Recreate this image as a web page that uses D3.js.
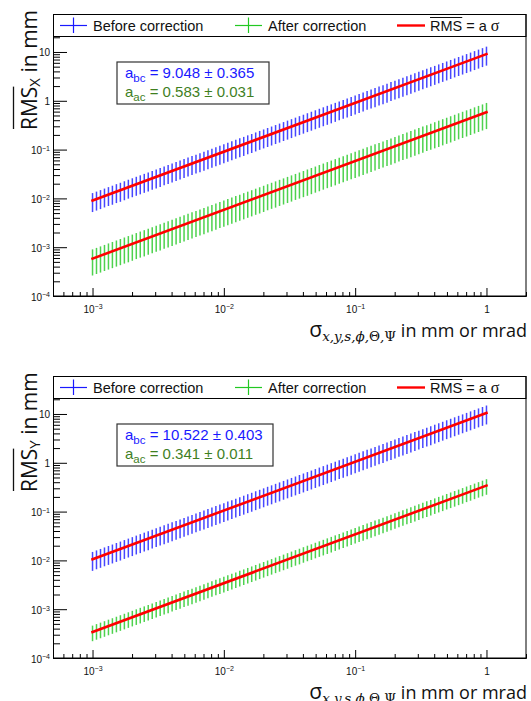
<!DOCTYPE html>
<html>
<head>
<meta charset="utf-8">
<script src="https://cdn.jsdelivr.net/npm/d3@7"></script>
<style>
body{margin:0;background:#fff}
svg{display:block}
</style>
</head>
<body>
<svg id="chart" width="531" height="701"></svg>
<script>
// sigma values (mm or mrad), 33 points per decade from 1e-3 to 1
const sigma=[
1.000e-3,1.072e-3,1.150e-3,1.233e-3,1.322e-3,1.417e-3,1.520e-3,1.630e-3,1.748e-3,1.874e-3,2.009e-3,2.154e-3,2.310e-3,2.477e-3,2.656e-3,2.848e-3,3.054e-3,3.275e-3,3.511e-3,3.765e-3,4.037e-3,4.329e-3,4.642e-3,4.977e-3,5.337e-3,5.722e-3,6.136e-3,6.579e-3,7.055e-3,7.565e-3,8.111e-3,8.697e-3,9.326e-3,
1.000e-2,1.072e-2,1.150e-2,1.233e-2,1.322e-2,1.417e-2,1.520e-2,1.630e-2,1.748e-2,1.874e-2,2.009e-2,2.154e-2,2.310e-2,2.477e-2,2.656e-2,2.848e-2,3.054e-2,3.275e-2,3.511e-2,3.765e-2,4.037e-2,4.329e-2,4.642e-2,4.977e-2,5.337e-2,5.722e-2,6.136e-2,6.579e-2,7.055e-2,7.565e-2,8.111e-2,8.697e-2,9.326e-2,
1.000e-1,1.072e-1,1.150e-1,1.233e-1,1.322e-1,1.417e-1,1.520e-1,1.630e-1,1.748e-1,1.874e-1,2.009e-1,2.154e-1,2.310e-1,2.477e-1,2.656e-1,2.848e-1,3.054e-1,3.275e-1,3.511e-1,3.765e-1,4.037e-1,4.329e-1,4.642e-1,4.977e-1,5.337e-1,5.722e-1,6.136e-1,6.579e-1,7.055e-1,7.565e-1,8.111e-1,8.697e-1,9.326e-1,
1];

// RMS_X before correction (mm) and its error
const rmsXBefore=[
9.05e-3,9.70e-3,10.4e-3,11.2e-3,12.0e-3,12.8e-3,13.8e-3,14.7e-3,15.8e-3,17.0e-3,18.2e-3,19.5e-3,20.9e-3,22.4e-3,24.0e-3,25.8e-3,27.6e-3,29.6e-3,31.8e-3,34.1e-3,36.5e-3,39.2e-3,42.0e-3,45.0e-3,48.3e-3,51.8e-3,55.5e-3,59.5e-3,63.8e-3,68.4e-3,73.4e-3,78.7e-3,84.4e-3,
9.05e-2,9.70e-2,10.4e-2,11.2e-2,12.0e-2,12.8e-2,13.8e-2,14.7e-2,15.8e-2,17.0e-2,18.2e-2,19.5e-2,20.9e-2,22.4e-2,24.0e-2,25.8e-2,27.6e-2,29.6e-2,31.8e-2,34.1e-2,36.5e-2,39.2e-2,42.0e-2,45.0e-2,48.3e-2,51.8e-2,55.5e-2,59.5e-2,63.8e-2,68.4e-2,73.4e-2,78.7e-2,84.4e-2,
9.05e-1,9.70e-1,10.4e-1,11.2e-1,12.0e-1,12.8e-1,13.8e-1,14.7e-1,15.8e-1,17.0e-1,18.2e-1,19.5e-1,20.9e-1,22.4e-1,24.0e-1,25.8e-1,27.6e-1,29.6e-1,31.8e-1,34.1e-1,36.5e-1,39.2e-1,42.0e-1,45.0e-1,48.3e-1,51.8e-1,55.5e-1,59.5e-1,63.8e-1,68.4e-1,73.4e-1,78.7e-1,84.4e-1,
9.05];
const rmsXBeforeErr=[
3.80e-3,4.07e-3,4.37e-3,4.68e-3,5.02e-3,5.39e-3,5.78e-3,6.19e-3,6.64e-3,7.12e-3,7.63e-3,8.19e-3,8.78e-3,9.41e-3,10.1e-3,10.8e-3,11.6e-3,12.4e-3,13.3e-3,14.3e-3,15.3e-3,16.4e-3,17.6e-3,18.9e-3,20.3e-3,21.7e-3,23.3e-3,25.0e-3,26.8e-3,28.7e-3,30.8e-3,33.1e-3,35.4e-3,
3.80e-2,4.07e-2,4.37e-2,4.68e-2,5.02e-2,5.39e-2,5.78e-2,6.19e-2,6.64e-2,7.12e-2,7.63e-2,8.19e-2,8.78e-2,9.41e-2,10.1e-2,10.8e-2,11.6e-2,12.4e-2,13.3e-2,14.3e-2,15.3e-2,16.4e-2,17.6e-2,18.9e-2,20.3e-2,21.7e-2,23.3e-2,25.0e-2,26.8e-2,28.7e-2,30.8e-2,33.1e-2,35.4e-2,
3.80e-1,4.07e-1,4.37e-1,4.68e-1,5.02e-1,5.39e-1,5.78e-1,6.19e-1,6.64e-1,7.12e-1,7.63e-1,8.19e-1,8.78e-1,9.41e-1,10.1e-1,10.8e-1,11.6e-1,12.4e-1,13.3e-1,14.3e-1,15.3e-1,16.4e-1,17.6e-1,18.9e-1,20.3e-1,21.7e-1,23.3e-1,25.0e-1,26.8e-1,28.7e-1,30.8e-1,33.1e-1,35.4e-1,
3.80];

// RMS_X after correction
const rmsXAfter=[
0.583e-3,0.625e-3,0.670e-3,0.719e-3,0.771e-3,0.826e-3,0.886e-3,0.950e-3,1.02e-3,1.09e-3,1.17e-3,1.26e-3,1.35e-3,1.44e-3,1.55e-3,1.66e-3,1.78e-3,1.91e-3,2.05e-3,2.19e-3,2.35e-3,2.52e-3,2.71e-3,2.90e-3,3.11e-3,3.34e-3,3.58e-3,3.84e-3,4.11e-3,4.41e-3,4.73e-3,5.07e-3,5.44e-3,
0.583e-2,0.625e-2,0.670e-2,0.719e-2,0.771e-2,0.826e-2,0.886e-2,0.950e-2,1.02e-2,1.09e-2,1.17e-2,1.26e-2,1.35e-2,1.44e-2,1.55e-2,1.66e-2,1.78e-2,1.91e-2,2.05e-2,2.19e-2,2.35e-2,2.52e-2,2.71e-2,2.90e-2,3.11e-2,3.34e-2,3.58e-2,3.84e-2,4.11e-2,4.41e-2,4.73e-2,5.07e-2,5.44e-2,
0.583e-1,0.625e-1,0.670e-1,0.719e-1,0.771e-1,0.826e-1,0.886e-1,0.950e-1,1.02e-1,1.09e-1,1.17e-1,1.26e-1,1.35e-1,1.44e-1,1.55e-1,1.66e-1,1.78e-1,1.91e-1,2.05e-1,2.19e-1,2.35e-1,2.52e-1,2.71e-1,2.90e-1,3.11e-1,3.34e-1,3.58e-1,3.84e-1,4.11e-1,4.41e-1,4.73e-1,5.07e-1,5.44e-1,
0.583];
const rmsXAfterErr=[
0.320e-3,0.343e-3,0.368e-3,0.394e-3,0.423e-3,0.454e-3,0.486e-3,0.522e-3,0.559e-3,0.600e-3,0.643e-3,0.689e-3,0.739e-3,0.793e-3,0.850e-3,0.911e-3,0.977e-3,1.05e-3,1.12e-3,1.20e-3,1.29e-3,1.39e-3,1.49e-3,1.59e-3,1.71e-3,1.83e-3,1.96e-3,2.11e-3,2.26e-3,2.42e-3,2.60e-3,2.78e-3,2.98e-3,
0.320e-2,0.343e-2,0.368e-2,0.394e-2,0.423e-2,0.454e-2,0.486e-2,0.522e-2,0.559e-2,0.600e-2,0.643e-2,0.689e-2,0.739e-2,0.793e-2,0.850e-2,0.911e-2,0.977e-2,1.05e-2,1.12e-2,1.20e-2,1.29e-2,1.39e-2,1.49e-2,1.59e-2,1.71e-2,1.83e-2,1.96e-2,2.11e-2,2.26e-2,2.42e-2,2.60e-2,2.78e-2,2.98e-2,
0.320e-1,0.343e-1,0.368e-1,0.394e-1,0.423e-1,0.454e-1,0.486e-1,0.522e-1,0.559e-1,0.600e-1,0.643e-1,0.689e-1,0.739e-1,0.793e-1,0.850e-1,0.911e-1,0.977e-1,1.05e-1,1.12e-1,1.20e-1,1.29e-1,1.39e-1,1.49e-1,1.59e-1,1.71e-1,1.83e-1,1.96e-1,2.11e-1,2.26e-1,2.42e-1,2.60e-1,2.78e-1,2.98e-1,
0.320];

// RMS_Y before correction
const rmsYBefore=[
10.5e-3,11.3e-3,12.1e-3,13.0e-3,13.9e-3,14.9e-3,16.0e-3,17.1e-3,18.4e-3,19.7e-3,21.1e-3,22.7e-3,24.3e-3,26.1e-3,27.9e-3,30.0e-3,32.1e-3,34.5e-3,36.9e-3,39.6e-3,42.5e-3,45.5e-3,48.8e-3,52.4e-3,56.2e-3,60.2e-3,64.6e-3,69.2e-3,74.2e-3,79.6e-3,85.3e-3,91.5e-3,98.1e-3,
10.5e-2,11.3e-2,12.1e-2,13.0e-2,13.9e-2,14.9e-2,16.0e-2,17.1e-2,18.4e-2,19.7e-2,21.1e-2,22.7e-2,24.3e-2,26.1e-2,27.9e-2,30.0e-2,32.1e-2,34.5e-2,36.9e-2,39.6e-2,42.5e-2,45.5e-2,48.8e-2,52.4e-2,56.2e-2,60.2e-2,64.6e-2,69.2e-2,74.2e-2,79.6e-2,85.3e-2,91.5e-2,98.1e-2,
10.5e-1,11.3e-1,12.1e-1,13.0e-1,13.9e-1,14.9e-1,16.0e-1,17.1e-1,18.4e-1,19.7e-1,21.1e-1,22.7e-1,24.3e-1,26.1e-1,27.9e-1,30.0e-1,32.1e-1,34.5e-1,36.9e-1,39.6e-1,42.5e-1,45.5e-1,48.8e-1,52.4e-1,56.2e-1,60.2e-1,64.6e-1,69.2e-1,74.2e-1,79.6e-1,85.3e-1,91.5e-1,98.1e-1,
10.5];
const rmsYBeforeErr=[
4.40e-3,4.72e-3,5.06e-3,5.42e-3,5.82e-3,6.24e-3,6.69e-3,7.17e-3,7.69e-3,8.24e-3,8.84e-3,9.48e-3,10.2e-3,10.9e-3,11.7e-3,12.5e-3,13.4e-3,14.4e-3,15.4e-3,16.6e-3,17.8e-3,19.0e-3,20.4e-3,21.9e-3,23.5e-3,25.2e-3,27.0e-3,28.9e-3,31.0e-3,33.3e-3,35.7e-3,38.3e-3,41.0e-3,
4.40e-2,4.72e-2,5.06e-2,5.42e-2,5.82e-2,6.24e-2,6.69e-2,7.17e-2,7.69e-2,8.24e-2,8.84e-2,9.48e-2,10.2e-2,10.9e-2,11.7e-2,12.5e-2,13.4e-2,14.4e-2,15.4e-2,16.6e-2,17.8e-2,19.0e-2,20.4e-2,21.9e-2,23.5e-2,25.2e-2,27.0e-2,28.9e-2,31.0e-2,33.3e-2,35.7e-2,38.3e-2,41.0e-2,
4.40e-1,4.72e-1,5.06e-1,5.42e-1,5.82e-1,6.24e-1,6.69e-1,7.17e-1,7.69e-1,8.24e-1,8.84e-1,9.48e-1,10.2e-1,10.9e-1,11.7e-1,12.5e-1,13.4e-1,14.4e-1,15.4e-1,16.6e-1,17.8e-1,19.0e-1,20.4e-1,21.9e-1,23.5e-1,25.2e-1,27.0e-1,28.9e-1,31.0e-1,33.3e-1,35.7e-1,38.3e-1,41.0e-1,
4.40];

// RMS_Y after correction
const rmsYAfter=[
0.341e-3,0.366e-3,0.392e-3,0.420e-3,0.451e-3,0.483e-3,0.518e-3,0.556e-3,0.596e-3,0.639e-3,0.685e-3,0.735e-3,0.788e-3,0.845e-3,0.906e-3,0.971e-3,1.04e-3,1.12e-3,1.20e-3,1.28e-3,1.38e-3,1.48e-3,1.58e-3,1.70e-3,1.82e-3,1.95e-3,2.09e-3,2.24e-3,2.41e-3,2.58e-3,2.77e-3,2.97e-3,3.18e-3,
0.341e-2,0.366e-2,0.392e-2,0.420e-2,0.451e-2,0.483e-2,0.518e-2,0.556e-2,0.596e-2,0.639e-2,0.685e-2,0.735e-2,0.788e-2,0.845e-2,0.906e-2,0.971e-2,1.04e-2,1.12e-2,1.20e-2,1.28e-2,1.38e-2,1.48e-2,1.58e-2,1.70e-2,1.82e-2,1.95e-2,2.09e-2,2.24e-2,2.41e-2,2.58e-2,2.77e-2,2.97e-2,3.18e-2,
0.341e-1,0.366e-1,0.392e-1,0.420e-1,0.451e-1,0.483e-1,0.518e-1,0.556e-1,0.596e-1,0.639e-1,0.685e-1,0.735e-1,0.788e-1,0.845e-1,0.906e-1,0.971e-1,1.04e-1,1.12e-1,1.20e-1,1.28e-1,1.38e-1,1.48e-1,1.58e-1,1.70e-1,1.82e-1,1.95e-1,2.09e-1,2.24e-1,2.41e-1,2.58e-1,2.77e-1,2.97e-1,3.18e-1,
0.341];
const rmsYAfterErr=[
0.120e-3,0.129e-3,0.138e-3,0.148e-3,0.159e-3,0.170e-3,0.182e-3,0.196e-3,0.210e-3,0.225e-3,0.241e-3,0.259e-3,0.277e-3,0.297e-3,0.319e-3,0.342e-3,0.366e-3,0.393e-3,0.421e-3,0.452e-3,0.484e-3,0.519e-3,0.557e-3,0.597e-3,0.640e-3,0.687e-3,0.736e-3,0.790e-3,0.847e-3,0.908e-3,0.973e-3,1.04e-3,1.12e-3,
0.120e-2,0.129e-2,0.138e-2,0.148e-2,0.159e-2,0.170e-2,0.182e-2,0.196e-2,0.210e-2,0.225e-2,0.241e-2,0.259e-2,0.277e-2,0.297e-2,0.319e-2,0.342e-2,0.366e-2,0.393e-2,0.421e-2,0.452e-2,0.484e-2,0.519e-2,0.557e-2,0.597e-2,0.640e-2,0.687e-2,0.736e-2,0.790e-2,0.847e-2,0.908e-2,0.973e-2,1.04e-2,1.12e-2,
0.120e-1,0.129e-1,0.138e-1,0.148e-1,0.159e-1,0.170e-1,0.182e-1,0.196e-1,0.210e-1,0.225e-1,0.241e-1,0.259e-1,0.277e-1,0.297e-1,0.319e-1,0.342e-1,0.366e-1,0.393e-1,0.421e-1,0.452e-1,0.484e-1,0.519e-1,0.557e-1,0.597e-1,0.640e-1,0.687e-1,0.736e-1,0.790e-1,0.847e-1,0.908e-1,0.973e-1,1.04e-1,1.12e-1,
0.120];

// fit results  RMS = a*sigma  (top panel X, bottom panel Y)
const fitBefore=[9.048,10.522];
const fitBeforeErr=[0.365,0.403];
const fitAfter=[0.583,0.341];
const fitAfterErr=[0.031,0.011];

const legendLabels=["Before correction","After correction"];
const xTicks=[1e-3,1e-2,1e-1,1];
const xTickLabels=[["10","\u22123"],["10","\u22122"],["10","\u22121"],["1",""]];
const yTicks=[1e-4,1e-3,1e-2,1e-1,1,10];
const yTickLabels=[["10","\u22124"],["10","\u22123"],["10","\u22122"],["10","\u22121"],["1",""],["10",""]];

const FONT="'Liberation Sans', Arial, sans-serif";
const TFONT="'Open Sans', sans-serif";
const BLUE="#1a1aff", GREEN="#22c822", RED="#ff0000", OLIVE="#3f7f1f";

const svg=d3.select("#chart");
const x=d3.scaleLog().domain([5e-4,2]).range([53,526]);
const y=d3.scaleLog().domain([1e-4,60]).range([296,14]);

// minor tick positions
function minors(lo,hi){
  const out=[];
  for(let e=-5;e<=2;e++){
    for(let k=2;k<=9;k++){
      const v=k*Math.pow(10,e);
      if(v>=lo*0.999 && v<=hi*1.001) out.push(v);
    }
  }
  return out;
}

function labelPow(textSel,lab,supSize){
  textSel.text(null);
  textSel.append("tspan").text(lab[0]);
  if(lab[1]) textSel.append("tspan").attr("font-size",supSize).attr("dy","-0.45em").text(lab[1]);
}

function panel(p){
  const g=svg.append("g").attr("transform",`translate(0,${p.off})`);

  // axes
  const gx=g.append("g").attr("transform","translate(0,296)");
  gx.call(d3.axisBottom(x).tickValues(minors(5e-4,2)).tickSize(-4).tickSizeOuter(0).tickFormat(""));
  const gxm=g.append("g").attr("transform","translate(0,296)");
  gxm.call(d3.axisBottom(x).tickValues(xTicks).tickSize(-8).tickSizeOuter(0).tickPadding(7).tickFormat(""));
  gxm.selectAll(".tick text").attr("font-family",FONT).attr("font-size",10).attr("fill","#111")
    .attr("dy","0.95em")
    .each(function(d,i){labelPow(d3.select(this),xTickLabels[i],7);});

  const gy=g.append("g").attr("transform","translate(53,0)");
  gy.call(d3.axisLeft(y).tickValues(minors(1e-4,60)).tickSize(-7).tickSizeOuter(0).tickFormat(""));
  const gym=g.append("g").attr("transform","translate(53,0)");
  gym.call(d3.axisLeft(y).tickValues(yTicks).tickSize(-14).tickSizeOuter(0).tickPadding(3).tickFormat(""));
  gym.selectAll(".tick text").attr("font-family",FONT).attr("font-size",10).attr("fill","#111")
    .attr("dy","0.4em")
    .each(function(d,i){labelPow(d3.select(this),yTickLabels[i],7);});
  g.selectAll(".domain").attr("stroke","#000");
  g.selectAll(".tick line").attr("stroke","#000");

  // error bars
  const series=[
    {v:p.before,e:p.beforeErr,c:BLUE},
    {v:p.after,e:p.afterErr,c:GREEN}
  ];
  series.forEach(s=>{
    g.append("g").selectAll("line").data(s.v).join("line")
      .attr("x1",(d,i)=>x(sigma[i])).attr("x2",(d,i)=>x(sigma[i]))
      .attr("y1",(d,i)=>y(d-s.e[i])).attr("y2",(d,i)=>y(d+s.e[i]))
      .attr("stroke",s.c).attr("stroke-width",1.5).attr("opacity",0.8);
  });

  // fit lines
  [p.a1,p.a2].forEach(a=>{
    const ends=[sigma[0],sigma[sigma.length-1]];
    g.append("path")
      .attr("d",d3.line().x(d=>x(d)).y(d=>y(a*d))(ends))
      .attr("stroke",RED).attr("stroke-width",2.6).attr("fill","none").attr("stroke-linecap","square");
  });

  // legend
  const lg=g.append("g");
  lg.append("rect").attr("x",53.5).attr("y",14.5).attr("width",472.5).attr("height",22)
    .attr("fill","#fff").attr("stroke","#000");
  [[60,87,BLUE,93],[235,262,GREEN,268]].forEach((L,i)=>{
    lg.append("line").attr("x1",L[0]).attr("x2",L[1]).attr("y1",25.5).attr("y2",25.5).attr("stroke",L[2]).attr("stroke-width",1.2);
    lg.append("line").attr("x1",(L[0]+L[1])/2).attr("x2",(L[0]+L[1])/2).attr("y1",17.5).attr("y2",33).attr("stroke",L[2]).attr("stroke-width",1.2);
    lg.append("text").attr("x",L[3]).attr("y",30.5).attr("font-family",FONT).attr("font-size",14.5).attr("fill","#111").text(legendLabels[i]);
  });
  lg.append("line").attr("x1",397).attr("x2",425).attr("y1",25.5).attr("y2",25.5).attr("stroke",RED).attr("stroke-width",2.4);
  const rmsT=lg.append("text").attr("x",430).attr("y",30.5).attr("font-family",FONT).attr("font-size",14.5).attr("fill","#111").text("RMS");
  const rw=rmsT.node().getComputedTextLength();
  lg.append("line").attr("x1",430).attr("x2",430+rw).attr("y1",17.5).attr("y2",17.5).attr("stroke","#111").attr("stroke-width",1.1);
  const rest=lg.append("text").attr("x",430+rw).attr("y",30.5).attr("font-family",FONT).attr("font-size",14.5).attr("fill","#111");
  rest.append("tspan").text("\u00a0= a\u00a0");
  rest.append("tspan").attr("font-family","'Liberation Serif', serif").attr("font-size",16).text("\u03c3");

  // fit result box
  const bx=g.append("g");
  bx.append("rect").attr("x",117).attr("y",62).attr("width",p.boxW).attr("height",42)
    .attr("fill","#fff").attr("stroke","#333").attr("stroke-width",1.2);
  [[p.a1,p.e1,"bc",BLUE,78],[p.a2,p.e2,"ac",OLIVE,97]].forEach(r=>{
    const t=bx.append("text").attr("x",125).attr("y",r[4]).attr("font-family",FONT).attr("font-size",15).attr("fill",r[3]);
    t.append("tspan").text("a");
    t.append("tspan").attr("font-size",11.5).attr("dy",3.5).text(r[2]);
    t.append("tspan").attr("dy",-3.5).text("\u00a0= "+r[0].toFixed(3)+" \u00b1 "+r[1].toFixed(3));
  });

  // frame
  g.append("rect").attr("x",53.5).attr("y",14.5).attr("width",472.5).attr("height",281.5)
    .attr("fill","none").attr("stroke","#000");

  // y title
  const yt=g.append("g").attr("transform","translate(37,130) rotate(-90)");
  const ytt=yt.append("text").attr("font-family",TFONT).attr("font-size",21).attr("fill","#111");
  ytt.append("tspan").text("RMS");
  ytt.append("tspan").attr("font-size",15).attr("dy",3).text(p.name);
  ytt.append("tspan").attr("dy",-3).text("\u00a0in mm");
  const ow=ytt.node().getSubStringLength(0,3);
  yt.append("line").attr("x1",1).attr("x2",ow).attr("y1",-23.5).attr("y2",-23.5).attr("stroke","#111").attr("stroke-width",1.3);

  // x title
  const xt=g.append("text").attr("x",527).attr("y",337).attr("text-anchor","end")
    .attr("font-family",TFONT).attr("fill","#111");
  xt.append("tspan").attr("font-size",21).text("\u03c3");
  const sub=xt.append("tspan").attr("font-family","'DejaVu Serif', serif").attr("font-size",13.5).attr("dy",4);
  sub.append("tspan").attr("font-style","italic").text("x,y,s,\u03d5,");
  sub.append("tspan").text("\u0398");
  sub.append("tspan").attr("font-style","italic").text(",");
  sub.append("tspan").text("\u03a8");
  xt.append("tspan").attr("font-size",18).attr("dy",-4).text("\u00a0in mm or mrad");
}

const panels=[
  {off:0,name:"X",before:rmsXBefore,beforeErr:rmsXBeforeErr,after:rmsXAfter,afterErr:rmsXAfterErr,
   a1:fitBefore[0],e1:fitBeforeErr[0],a2:fitAfter[0],e2:fitAfterErr[0],boxW:152},
  {off:362,name:"Y",before:rmsYBefore,beforeErr:rmsYBeforeErr,after:rmsYAfter,afterErr:rmsYAfterErr,
   a1:fitBefore[1],e1:fitBeforeErr[1],a2:fitAfter[1],e2:fitAfterErr[1],boxW:156}
];
panels.forEach(panel);
</script>
</body>
</html>
